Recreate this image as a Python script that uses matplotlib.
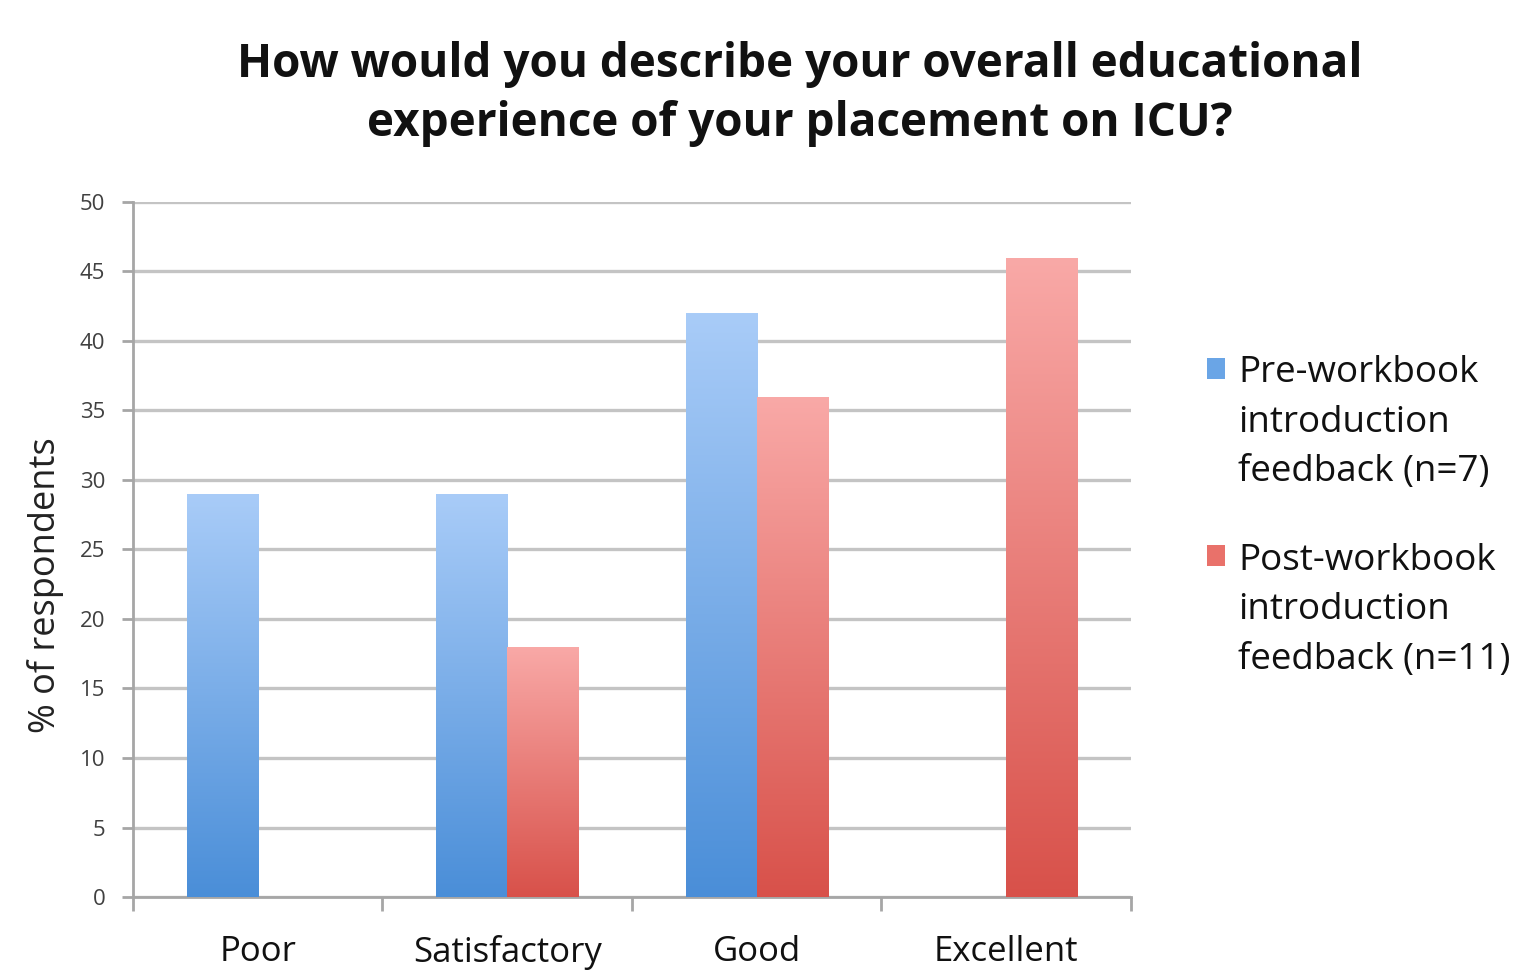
import numpy as np
import matplotlib
matplotlib.use("Agg")
import matplotlib.pyplot as plt
from matplotlib.colors import LinearSegmentedColormap
from matplotlib.patches import Patch, Rectangle
from matplotlib.legend_handler import HandlerPatch

categories = ["Poor", "Satisfactory", "Good", "Excellent"]
pre_values = [29, 29, 42, 0]
post_values = [0, 18, 36, 46]
series_labels = ["Pre-workbook\nintroduction\nfeedback (n=7)",
                 "Post-workbook\nintroduction\nfeedback (n=11)"]
yticks = [0, 5, 10, 15, 20, 25, 30, 35, 40, 45, 50]

plt.rcParams['font.family'] = ['Open Sans', 'DejaVu Sans']

fig = plt.figure(figsize=(15.23, 9.71), dpi=100)
ax = fig.add_axes([0.0873, 0.0762, 0.7426 - 0.0873, 0.792 - 0.0762])

blue_cmap = LinearSegmentedColormap.from_list("b", ["#4a8ed8", "#a9ccf8"])
red_cmap = LinearSegmentedColormap.from_list("r", ["#d8514a", "#f9a9a7"])

x = np.arange(len(categories))
w = 0.285
grad = np.linspace(0, 1, 256).reshape(-1, 1)

ax.set_xlim(-0.5, 3.5)
ax.set_ylim(0, 50)

for vals, off, cmap in [(pre_values, -w / 2, blue_cmap), (post_values, w / 2, red_cmap)]:
    bars = ax.bar(x + off, vals, width=w, color="none", edgecolor="none", zorder=3)
    for b in bars:
        h = b.get_height()
        if h <= 0:
            continue
        x0 = b.get_x()
        im = ax.imshow(grad, cmap=cmap, aspect="auto", origin="lower",
                       extent=[x0, x0 + b.get_width(), 0, h], zorder=3,
                       interpolation="bilinear")
        im.set_clip_path(b)

ax.set_xlim(-0.5, 3.5)
ax.set_ylim(0, 50)

ax.set_yticks(yticks)
ax.yaxis.grid(True, color="#c4c4c4", linewidth=2.4, zorder=0)
ax.set_axisbelow(True)
for s in ["top", "right"]:
    ax.spines[s].set_visible(False)
ax.spines["left"].set_color("#a6a6a6")
ax.spines["left"].set_linewidth(2)
ax.spines["bottom"].set_color("#a6a6a6")
ax.spines["bottom"].set_linewidth(2)
ax.tick_params(axis="y", colors="#a6a6a6", length=8, width=2, labelsize=16,
               labelcolor="#404040", pad=12)

ax.set_xticks(x)
ax.set_xticklabels(categories)
ax.tick_params(axis="x", which="major", length=0, labelsize=25, pad=27, labelcolor="#111111")
ax.set_xticks(np.arange(-0.5, 4.0, 1.0), minor=True)
ax.tick_params(axis="x", which="minor", length=10, width=2, colors="#a6a6a6")

ax.set_ylabel("% of respondents", fontsize=26, color="#222222")
ax.yaxis.set_label_coords(-0.069, 0.449)

fig.text(0.525, 0.903, "How would you describe your overall educational\nexperience of your placement on ICU?",
         ha="center", va="center", fontsize=33, fontweight="bold", linespacing=1.35, color="#111111")


class TopHandler(HandlerPatch):
    def __init__(self, dy, **kw):
        super().__init__(**kw)
        self.dy = dy

    def create_artists(self, legend, orig_handle, xdescent, ydescent, width, height, fontsize, trans):
        p = Rectangle((-xdescent, -ydescent + self.dy), width, height,
                      facecolor=orig_handle.get_facecolor(), edgecolor="none", transform=trans)
        return [p]


leg_fs = 26.5
leg_ls = 1.5
handles = [Patch(facecolor="#6aa5e6", edgecolor="none"), Patch(facecolor="#e9716a", edgecolor="none")]
handler = TopHandler(dy=leg_ls * leg_fs)
leg = fig.legend(handles, series_labels, loc="upper left", bbox_to_anchor=(0.7925, 0.634),
                 frameon=False, fontsize=leg_fs, handlelength=0.5, handleheight=0.5,
                 handletextpad=0.35, labelspacing=1.42, borderpad=0, borderaxespad=0,
                 handler_map={Patch: handler})
for t in leg.get_texts():
    t.set_linespacing(leg_ls)
    t.set_color("#111111")

fig.savefig("out.png", dpi=100)
